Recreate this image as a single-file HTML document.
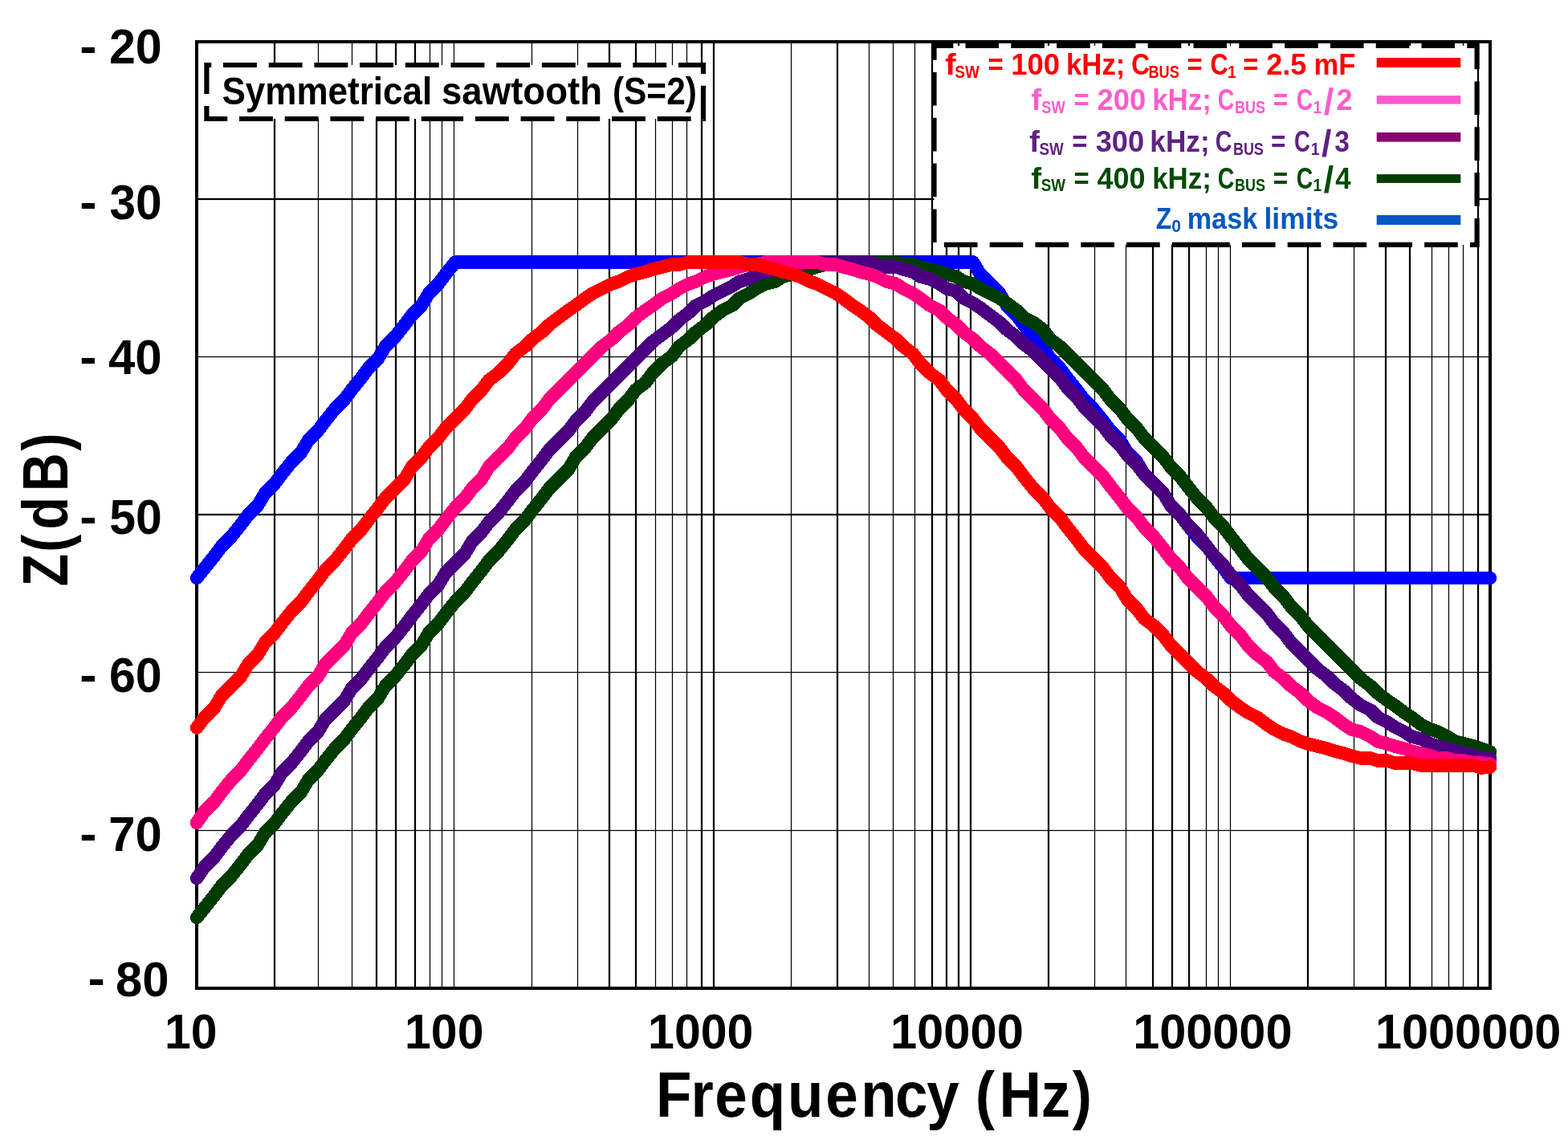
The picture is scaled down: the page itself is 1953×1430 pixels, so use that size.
<!DOCTYPE html>
<html lang="en"><head><meta charset="utf-8"><title>Z(dB) vs Frequency (Hz)</title>
<style>html,body{margin:0;padding:0;background:#fff;overflow:hidden}svg{display:block}text{font-family:"Liberation Sans",sans-serif;font-weight:bold}</style>
</head><body>
<svg width="1953" height="1430" viewBox="0 0 1953 1430" role="img" aria-label="Z(dB) versus Frequency (Hz), symmetrical sawtooth (S=2)">
<rect x="0" y="0" width="1953" height="1430" fill="#fff"/>
<g id="grid" fill="#000">
<rect x="340.88" y="52" width="2.24" height="1179"/>
<rect x="395.88" y="52" width="1.24" height="1179"/>
<rect x="437.88" y="52" width="1.24" height="1179"/>
<rect x="467.88" y="52" width="2.24" height="1179"/>
<rect x="491.88" y="52" width="2.24" height="1179"/>
<rect x="515.88" y="52" width="2.24" height="1179"/>
<rect x="534.88" y="52" width="1.24" height="1179"/>
<rect x="549.88" y="52" width="1.24" height="1179"/>
<rect x="564.88" y="52" width="1.24" height="1179"/>
<rect x="661.88" y="52" width="1.24" height="1179"/>
<rect x="718.88" y="52" width="1.24" height="1179"/>
<rect x="757.88" y="52" width="2.24" height="1179"/>
<rect x="790.88" y="52" width="2.24" height="1179"/>
<rect x="815.88" y="52" width="1.24" height="1179"/>
<rect x="836.88" y="52" width="1.24" height="1179"/>
<rect x="854.88" y="52" width="1.24" height="1179"/>
<rect x="872.88" y="52" width="2.24" height="1179"/>
<rect x="887.88" y="52" width="2.24" height="1179"/>
<rect x="984.88" y="52" width="1.24" height="1179"/>
<rect x="1041.88" y="52" width="2.24" height="1179"/>
<rect x="1081.88" y="52" width="1.24" height="1179"/>
<rect x="1111.88" y="52" width="1.24" height="1179"/>
<rect x="1138.88" y="52" width="1.24" height="1179"/>
<rect x="1159.88" y="52" width="2.24" height="1179"/>
<rect x="1177.88" y="52" width="2.24" height="1179"/>
<rect x="1192.88" y="52" width="2.24" height="1179"/>
<rect x="1207.88" y="52" width="2.24" height="1179"/>
<rect x="1304.88" y="52" width="2.24" height="1179"/>
<rect x="1362.88" y="52" width="1.24" height="1179"/>
<rect x="1401.88" y="52" width="1.24" height="1179"/>
<rect x="1434.88" y="52" width="2.24" height="1179"/>
<rect x="1458.88" y="52" width="2.24" height="1179"/>
<rect x="1479.88" y="52" width="2.24" height="1179"/>
<rect x="1501.88" y="52" width="1.24" height="1179"/>
<rect x="1516.88" y="52" width="1.24" height="1179"/>
<rect x="1531.88" y="52" width="1.24" height="1179"/>
<rect x="1627.88" y="52" width="2.24" height="1179"/>
<rect x="1685.88" y="52" width="1.24" height="1179"/>
<rect x="1724.88" y="52" width="2.24" height="1179"/>
<rect x="1754.88" y="52" width="2.24" height="1179"/>
<rect x="1782.88" y="52" width="1.24" height="1179"/>
<rect x="1803.88" y="52" width="1.24" height="1179"/>
<rect x="1821.88" y="52" width="1.24" height="1179"/>
<rect x="1839.88" y="52" width="2.24" height="1179"/>
<rect x="245" y="246.88" width="1611" height="2.24"/>
<rect x="245" y="443.88" width="1611" height="1.24"/>
<rect x="245" y="639.88" width="1611" height="2.24"/>
<rect x="245" y="836.88" width="1611" height="1.24"/>
<rect x="245" y="1033.88" width="1611" height="1.24"/>
</g>
<rect id="frame" x="245.0" y="52.0" width="1611.0" height="1179.0" fill="none" stroke="#000" stroke-width="4"/>
<g id="curves">
<polyline id="mask" points="245,720.1 255,707.5 267,692.5 276,680.5 288,668.5 300,653.5 309,641.5 321,629.5 330,614.5 342,602.5 351,590.5 363,575.5 375,563.5 384,548.5 396,536.5 405,524.5 417,509.5 429,497.5 438,485.5 450,470.5 459,458.5 471,446.5 480,431.5 492,419.5 504,404.5 513,392.5 525,380.5 534,365.5 546,353.5 555,341.5 567,326.5 1212,326.5 1221,341.5 1233,353.5 1245,365.5 1254,380.5 1266,392.5 1275,404.5 1287,419.5 1299,431.5 1308,446.5 1320,458.5 1329,470.5 1341,485.5 1350,497.5 1362,509.5 1374,524.5 1383,536.5 1395,548.5 1404,563.5 1416,575.5 1425,590.5 1437,602.5 1449,614.5 1458,629.5 1470,641.5 1479,653.5 1491,668.5 1503,680.5 1512,692.5 1524,707.5 1533,720.1 1856,720.1" fill="none" stroke="#0000ff" stroke-width="16.5" stroke-linecap="round" stroke-linejoin="round" shape-rendering="crispEdges"/>
<polyline id="c400" points="245,1143.1 255,1130.5 267,1115.5 276,1103.5 288,1091.5 300,1076.5 309,1064.5 321,1052.5 330,1037.5 342,1025.5 351,1013.5 363,998.5 375,986.5 384,971.5 396,959.5 405,947.5 417,932.5 429,920.5 438,908.5 450,893.5 459,881.5 471,869.5 480,854.5 492,842.5 504,827.5 513,815.5 525,803.5 534,788.5 546,776.5 555,764.5 567,749.5 579,737.5 588,725.5 600,710.5 609,698.5 621,686.5 633,671.5 642,659.5 654,647.5 663,635.5 675,620.5 684,608.5 696,596.5 708,584.5 717,569.5 729,557.5 738,545.5 750,533.5 762,521.5 771,509.5 783,497.5 792,485.5 804,476.5 813,464.5 825,452.5 837,443.5 846,431.5 858,422.5 867,413.5 879,404.5 888,395.5 900,386.5 912,380.5 921,371.5 933,365.5 942,359.5 954,353.5 966,350.5 975,344.5 987,341.5 996,338.5 1008,335.5 1017,332.5 1029,329.5 1041,329.5 1050,326.5 1062,326.5 1071,326.5 1083,326.5 1092,326.5 1104,326.5 1116,326.5 1125,329.5 1137,329.5 1146,332.5 1158,335.5 1170,338.5 1179,341.5 1191,344.5 1200,350.5 1212,353.5 1221,359.5 1233,365.5 1245,371.5 1254,377.5 1266,386.5 1275,395.5 1287,401.5 1299,410.5 1308,422.5 1320,431.5 1329,440.5 1341,452.5 1350,461.5 1362,473.5 1374,485.5 1383,497.5 1395,509.5 1404,521.5 1416,533.5 1425,545.5 1437,557.5 1449,569.5 1458,581.5 1470,593.5 1479,605.5 1491,620.5 1503,632.5 1512,644.5 1524,656.5 1533,668.5 1545,683.5 1554,695.5 1566,707.5 1578,719.5 1587,731.5 1599,743.5 1608,755.5 1620,767.5 1629,779.5 1641,791.5 1653,803.5 1662,812.5 1674,824.5 1683,833.5 1695,845.5 1707,854.5 1716,863.5 1728,872.5 1737,878.5 1749,887.5 1758,893.5 1770,902.5 1782,908.5 1791,911.5 1803,917.5 1812,923.5 1824,926.5 1836,929.5 1845,932.5 1856,936.6" fill="none" stroke="#003c00" stroke-width="16.5" stroke-linecap="round" stroke-linejoin="round" shape-rendering="crispEdges"/>
<polyline id="c300" points="245,1094 255,1079.5 267,1067.5 276,1055.5 288,1040.5 300,1028.5 309,1016.5 321,1001.5 330,989.5 342,977.5 351,962.5 363,950.5 375,935.5 384,923.5 396,911.5 405,896.5 417,884.5 429,872.5 438,857.5 450,845.5 459,833.5 471,818.5 480,806.5 492,794.5 504,779.5 513,767.5 525,752.5 534,740.5 546,728.5 555,713.5 567,701.5 579,689.5 588,674.5 600,662.5 609,650.5 621,638.5 633,623.5 642,611.5 654,599.5 663,587.5 675,572.5 684,560.5 696,548.5 708,536.5 717,524.5 729,512.5 738,500.5 750,488.5 762,476.5 771,467.5 783,455.5 792,446.5 804,434.5 813,425.5 825,416.5 837,407.5 846,398.5 858,389.5 867,380.5 879,374.5 888,368.5 900,362.5 912,356.5 921,350.5 933,347.5 942,341.5 954,338.5 966,335.5 975,332.5 987,329.5 996,329.5 1008,326.5 1017,326.5 1029,326.5 1041,326.5 1050,326.5 1062,326.5 1071,326.5 1083,326.5 1092,329.5 1104,332.5 1116,332.5 1125,335.5 1137,338.5 1146,344.5 1158,347.5 1170,353.5 1179,359.5 1191,362.5 1200,371.5 1212,377.5 1221,383.5 1233,392.5 1245,401.5 1254,410.5 1266,419.5 1275,428.5 1287,437.5 1299,449.5 1308,458.5 1320,470.5 1329,482.5 1341,494.5 1350,506.5 1362,518.5 1374,530.5 1383,542.5 1395,554.5 1404,566.5 1416,578.5 1425,590.5 1437,602.5 1449,614.5 1458,629.5 1470,641.5 1479,653.5 1491,665.5 1503,680.5 1512,692.5 1524,704.5 1533,716.5 1545,728.5 1554,740.5 1566,752.5 1578,764.5 1587,776.5 1599,788.5 1608,800.5 1620,812.5 1629,821.5 1641,833.5 1653,842.5 1662,851.5 1674,860.5 1683,869.5 1695,878.5 1707,884.5 1716,893.5 1728,899.5 1737,905.5 1749,911.5 1758,917.5 1770,920.5 1782,926.5 1791,929.5 1803,932.5 1812,935.5 1824,938.5 1836,941.5 1845,944.5 1856,944.8" fill="none" stroke="#4b0082" stroke-width="16.5" stroke-linecap="round" stroke-linejoin="round" shape-rendering="crispEdges"/>
<polyline id="c200" points="245,1024.8 255,1010.5 267,998.5 276,986.5 288,971.5 300,959.5 309,947.5 321,932.5 330,920.5 342,905.5 351,893.5 363,881.5 375,866.5 384,854.5 396,842.5 405,827.5 417,815.5 429,803.5 438,788.5 450,776.5 459,764.5 471,749.5 480,737.5 492,725.5 504,710.5 513,698.5 525,686.5 534,671.5 546,659.5 555,647.5 567,632.5 579,620.5 588,608.5 600,596.5 609,581.5 621,569.5 633,557.5 642,545.5 654,533.5 663,521.5 675,509.5 684,497.5 696,485.5 708,473.5 717,464.5 729,452.5 738,443.5 750,431.5 762,422.5 771,413.5 783,404.5 792,395.5 804,386.5 813,380.5 825,371.5 837,365.5 846,359.5 858,353.5 867,350.5 879,344.5 888,341.5 900,338.5 912,335.5 921,332.5 933,329.5 942,329.5 954,326.5 966,326.5 975,326.5 987,326.5 996,326.5 1008,326.5 1017,326.5 1029,329.5 1041,329.5 1050,332.5 1062,335.5 1071,338.5 1083,341.5 1092,344.5 1104,350.5 1116,353.5 1125,359.5 1137,365.5 1146,371.5 1158,380.5 1170,386.5 1179,395.5 1191,404.5 1200,413.5 1212,422.5 1221,431.5 1233,440.5 1245,452.5 1254,461.5 1266,473.5 1275,485.5 1287,497.5 1299,509.5 1308,521.5 1320,533.5 1329,545.5 1341,557.5 1350,569.5 1362,581.5 1374,593.5 1383,605.5 1395,620.5 1404,632.5 1416,644.5 1425,656.5 1437,668.5 1449,683.5 1458,695.5 1470,707.5 1479,719.5 1491,731.5 1503,743.5 1512,755.5 1524,767.5 1533,779.5 1545,791.5 1554,803.5 1566,815.5 1578,824.5 1587,836.5 1599,845.5 1608,854.5 1620,863.5 1629,872.5 1641,881.5 1653,887.5 1662,893.5 1674,902.5 1683,908.5 1695,911.5 1707,917.5 1716,923.5 1728,926.5 1737,929.5 1749,932.5 1758,935.5 1770,938.5 1782,941.5 1791,944.5 1803,944.5 1812,947.5 1824,947.5 1836,950.5 1845,950.5 1856,951.3" fill="none" stroke="#ff007f" stroke-width="16.5" stroke-linecap="round" stroke-linejoin="round" shape-rendering="crispEdges"/>
<polyline id="c100" points="245,906.6 255,893.5 267,881.5 276,866.5 288,854.5 300,842.5 309,827.5 321,815.5 330,800.5 342,788.5 351,776.5 363,761.5 375,749.5 384,737.5 396,722.5 405,710.5 417,698.5 429,683.5 438,671.5 450,659.5 459,647.5 471,632.5 480,620.5 492,608.5 504,596.5 513,581.5 525,569.5 534,557.5 546,545.5 555,533.5 567,521.5 579,509.5 588,497.5 600,485.5 609,473.5 621,464.5 633,452.5 642,440.5 654,431.5 663,422.5 675,413.5 684,404.5 696,395.5 708,386.5 717,380.5 729,371.5 738,365.5 750,359.5 762,353.5 771,350.5 783,344.5 792,341.5 804,338.5 813,335.5 825,332.5 837,329.5 846,329.5 858,326.5 867,326.5 879,326.5 888,326.5 900,326.5 912,326.5 921,326.5 933,329.5 942,329.5 954,332.5 966,335.5 975,338.5 987,341.5 996,344.5 1008,350.5 1017,353.5 1029,359.5 1041,365.5 1050,371.5 1062,380.5 1071,386.5 1083,395.5 1092,404.5 1104,413.5 1116,422.5 1125,431.5 1137,440.5 1146,452.5 1158,464.5 1170,473.5 1179,485.5 1191,497.5 1200,509.5 1212,521.5 1221,533.5 1233,545.5 1245,557.5 1254,569.5 1266,581.5 1275,593.5 1287,608.5 1299,620.5 1308,632.5 1320,644.5 1329,656.5 1341,671.5 1350,683.5 1362,695.5 1374,707.5 1383,719.5 1395,731.5 1404,746.5 1416,758.5 1425,770.5 1437,779.5 1449,791.5 1458,803.5 1470,815.5 1479,824.5 1491,836.5 1503,845.5 1512,854.5 1524,863.5 1533,872.5 1545,881.5 1554,887.5 1566,893.5 1578,902.5 1587,908.5 1599,914.5 1608,917.5 1620,923.5 1629,926.5 1641,929.5 1653,932.5 1662,935.5 1674,938.5 1683,941.5 1695,944.5 1707,944.5 1716,947.5 1728,947.5 1737,950.5 1749,950.5 1758,950.5 1770,953.5 1782,953.5 1791,953.5 1803,953.5 1812,953.5 1824,953.5 1836,953.5 1845,956.5 1856,955.4" fill="none" stroke="#ff0000" stroke-width="16.5" stroke-linecap="round" stroke-linejoin="round" shape-rendering="crispEdges"/>
</g>
<text id="y20" fill="#000"><tspan x="99.24" y="77.56" font-size="58.30" textLength="21.29" lengthAdjust="spacingAndGlyphs">-</tspan> <tspan x="135.93" y="79.30" font-size="60.40" textLength="65.77" lengthAdjust="spacingAndGlyphs">20</tspan></text>
<text id="y30" fill="#000"><tspan x="99.24" y="271.66" font-size="58.30" textLength="21.29" lengthAdjust="spacingAndGlyphs">-</tspan> <tspan x="136.54" y="273.40" font-size="60.40" textLength="65.14" lengthAdjust="spacingAndGlyphs">30</tspan></text>
<text id="y40" fill="#000"><tspan x="99.24" y="464.66" font-size="58.30" textLength="21.29" lengthAdjust="spacingAndGlyphs">-</tspan> <tspan x="135.00" y="466.40" font-size="60.40" textLength="66.74" lengthAdjust="spacingAndGlyphs">40</tspan></text>
<text id="y50" fill="#000"><tspan x="99.24" y="663.56" font-size="58.30" textLength="21.29" lengthAdjust="spacingAndGlyphs">-</tspan> <tspan x="136.23" y="665.30" font-size="60.40" textLength="65.46" lengthAdjust="spacingAndGlyphs">50</tspan></text>
<text id="y60" fill="#000"><tspan x="99.24" y="860.56" font-size="58.30" textLength="21.29" lengthAdjust="spacingAndGlyphs">-</tspan> <tspan x="135.93" y="862.30" font-size="60.40" textLength="65.77" lengthAdjust="spacingAndGlyphs">60</tspan></text>
<text id="y70" fill="#000"><tspan x="99.24" y="1058.56" font-size="58.30" textLength="21.29" lengthAdjust="spacingAndGlyphs">-</tspan> <tspan x="135.31" y="1060.30" font-size="60.40" textLength="66.42" lengthAdjust="spacingAndGlyphs">70</tspan></text>
<text id="y80" fill="#000"><tspan x="109.44" y="1239.46" font-size="58.30" textLength="21.29" lengthAdjust="spacingAndGlyphs">-</tspan> <tspan x="144.11" y="1241.20" font-size="60.40" textLength="66.53" lengthAdjust="spacingAndGlyphs">80</tspan></text>
<text id="x10" fill="#000"><tspan x="205.07" y="1306.20" font-size="60.40" textLength="65.52" lengthAdjust="spacingAndGlyphs">10</tspan></text>
<text id="x100" fill="#000"><tspan x="504.07" y="1306.20" font-size="60.40" textLength="98.41" lengthAdjust="spacingAndGlyphs">100</tspan></text>
<text id="x1000" fill="#000"><tspan x="807.06" y="1306.20" font-size="60.40" textLength="131.38" lengthAdjust="spacingAndGlyphs">1000</tspan></text>
<text id="x10000" fill="#000"><tspan x="1108.92" y="1306.20" font-size="60.40" textLength="165.91" lengthAdjust="spacingAndGlyphs">10000</tspan></text>
<text id="x100000" fill="#000"><tspan x="1411.14" y="1306.20" font-size="60.40" textLength="198.36" lengthAdjust="spacingAndGlyphs">100000</tspan></text>
<text id="x1000000" fill="#000"><tspan x="1712.94" y="1306.20" font-size="60.40" textLength="231.43" lengthAdjust="spacingAndGlyphs">1000000</tspan></text>
<text id="xtitle" fill="#000" font-size="79.60" transform="translate(0,1391) scale(0.9144,1)"><tspan x="893.6 941.0 973.5 1021.2 1072.7 1124.6 1172.6 1219.4 1262.3 1330.5 1328.6 1361.0 1418.2 1460.8" y="0">Frequency (Hz)</tspan></text>
<text id="ytitle" fill="#000" font-size="79.90" transform="translate(84.2,729) rotate(-90) scale(0.8314,1)"><tspan x="-1.8 49.5 83.7 140.4 201.5" y="0">Z(dB)</tspan></text>
<rect x="257.4" y="81.0" width="618.6" height="67.0" fill="#fff"/>
<path id="notebox" d="M566.7,148.0 H257.4 V81.0 H876.0 V148.0 Z" fill="none" stroke="#000" stroke-width="6.2" stroke-dasharray="41.9 14.8"/>
<text id="note" fill="#000"><tspan x="276.48" y="130.30" font-size="47.60" textLength="261.83" lengthAdjust="spacingAndGlyphs">Symmetrical</tspan> <tspan x="550.01" y="130.30" font-size="47.60" textLength="200.00" lengthAdjust="spacingAndGlyphs">sawtooth</tspan> <tspan x="762.88" y="130.30" font-size="47.60" textLength="105.07" lengthAdjust="spacingAndGlyphs">(S=2)</tspan></text>
<rect x="1163.5" y="57.0" width="676.1" height="247.8" fill="#fff"/>
<path id="legendbox" d="M1501.5,304.8 H1163.5 V57.0 H1839.6 V304.8 Z" fill="none" stroke="#000" stroke-width="6.2" stroke-dasharray="41.6 15.2"/>
<text id="leg1" fill="#ff0000"><tspan x="1176.99" y="92.90" font-size="36.80" textLength="13.63" lengthAdjust="spacingAndGlyphs">f</tspan><tspan x="1189.23" y="96.70" font-size="21.20" textLength="30.59" lengthAdjust="spacingAndGlyphs">SW</tspan> <tspan x="1230.49" y="92.90" font-size="36.80" textLength="19.20" lengthAdjust="spacingAndGlyphs">=</tspan> <tspan x="1259.13" y="92.90" font-size="36.80" textLength="60.88" lengthAdjust="spacingAndGlyphs">100</tspan> <tspan x="1327.96" y="92.90" font-size="36.80" textLength="73.49" lengthAdjust="spacingAndGlyphs">kHz;</tspan> <tspan x="1409.34" y="92.90" font-size="36.80" textLength="22.82" lengthAdjust="spacingAndGlyphs">C</tspan><tspan x="1430.52" y="96.70" font-size="21.20" textLength="38.23" lengthAdjust="spacingAndGlyphs">BUS</tspan> <tspan x="1478.49" y="92.90" font-size="36.80" textLength="19.20" lengthAdjust="spacingAndGlyphs">=</tspan> <tspan x="1507.57" y="92.90" font-size="36.80" textLength="22.16" lengthAdjust="spacingAndGlyphs">C</tspan><tspan x="1528.94" y="96.70" font-size="21.20" textLength="10.76" lengthAdjust="spacingAndGlyphs">1</tspan> <tspan x="1548.29" y="92.90" font-size="36.80" textLength="19.20" lengthAdjust="spacingAndGlyphs">=</tspan> <tspan x="1577.34" y="92.90" font-size="36.80" textLength="50.05" lengthAdjust="spacingAndGlyphs">2.5</tspan> <tspan x="1636.55" y="92.90" font-size="36.80" textLength="51.86" lengthAdjust="spacingAndGlyphs">mF</tspan></text>
<text id="leg2" fill="#ff5bcd"><tspan x="1284.22" y="136.70" font-size="36.80" textLength="12.91" lengthAdjust="spacingAndGlyphs">f</tspan><tspan x="1297.35" y="140.50" font-size="21.20" textLength="29.57" lengthAdjust="spacingAndGlyphs">SW</tspan> <tspan x="1337.39" y="136.70" font-size="36.80" textLength="19.20" lengthAdjust="spacingAndGlyphs">=</tspan> <tspan x="1366.43" y="136.70" font-size="36.80" textLength="60.78" lengthAdjust="spacingAndGlyphs">200</tspan> <tspan x="1435.16" y="136.70" font-size="36.80" textLength="73.60" lengthAdjust="spacingAndGlyphs">kHz;</tspan> <tspan x="1516.66" y="136.70" font-size="36.80" textLength="20.62" lengthAdjust="spacingAndGlyphs">C</tspan><tspan x="1538.03" y="140.50" font-size="21.20" textLength="37.91" lengthAdjust="spacingAndGlyphs">BUS</tspan> <tspan x="1585.64" y="136.70" font-size="36.80" textLength="18.39" lengthAdjust="spacingAndGlyphs">=</tspan> <tspan x="1614.86" y="136.70" font-size="36.80" textLength="20.51" lengthAdjust="spacingAndGlyphs">C</tspan><tspan x="1635.44" y="140.50" font-size="21.20" textLength="10.76" lengthAdjust="spacingAndGlyphs">1</tspan><tspan x="1648.80" y="142.60" font-size="47.00" textLength="12.41" lengthAdjust="spacingAndGlyphs">/</tspan><tspan x="1664.44" y="136.70" font-size="36.80" textLength="20.05" lengthAdjust="spacingAndGlyphs">2</tspan></text>
<text id="leg3" fill="#5f2282"><tspan x="1282.12" y="188.90" font-size="36.80" textLength="12.91" lengthAdjust="spacingAndGlyphs">f</tspan><tspan x="1294.54" y="192.70" font-size="21.20" textLength="30.28" lengthAdjust="spacingAndGlyphs">SW</tspan> <tspan x="1335.29" y="188.90" font-size="36.80" textLength="19.20" lengthAdjust="spacingAndGlyphs">=</tspan> <tspan x="1364.70" y="188.90" font-size="36.80" textLength="60.40" lengthAdjust="spacingAndGlyphs">300</tspan> <tspan x="1432.33" y="188.90" font-size="36.80" textLength="74.36" lengthAdjust="spacingAndGlyphs">kHz;</tspan> <tspan x="1513.86" y="188.90" font-size="36.80" textLength="20.62" lengthAdjust="spacingAndGlyphs">C</tspan><tspan x="1535.93" y="192.70" font-size="21.20" textLength="37.91" lengthAdjust="spacingAndGlyphs">BUS</tspan> <tspan x="1582.94" y="188.90" font-size="36.80" textLength="18.39" lengthAdjust="spacingAndGlyphs">=</tspan> <tspan x="1612.10" y="188.90" font-size="36.80" textLength="19.85" lengthAdjust="spacingAndGlyphs">C</tspan><tspan x="1632.64" y="192.70" font-size="21.20" textLength="10.76" lengthAdjust="spacingAndGlyphs">1</tspan><tspan x="1646.00" y="194.80" font-size="47.00" textLength="12.41" lengthAdjust="spacingAndGlyphs">/</tspan><tspan x="1662.16" y="188.90" font-size="36.80" textLength="18.65" lengthAdjust="spacingAndGlyphs">3</tspan></text>
<text id="leg4" fill="#004b00"><tspan x="1284.22" y="234.50" font-size="36.80" textLength="12.91" lengthAdjust="spacingAndGlyphs">f</tspan><tspan x="1296.64" y="238.30" font-size="21.20" textLength="30.28" lengthAdjust="spacingAndGlyphs">SW</tspan> <tspan x="1337.39" y="234.50" font-size="36.80" textLength="19.20" lengthAdjust="spacingAndGlyphs">=</tspan> <tspan x="1366.46" y="234.50" font-size="36.80" textLength="60.03" lengthAdjust="spacingAndGlyphs">400</tspan> <tspan x="1435.16" y="234.50" font-size="36.80" textLength="73.60" lengthAdjust="spacingAndGlyphs">kHz;</tspan> <tspan x="1516.66" y="234.50" font-size="36.80" textLength="20.62" lengthAdjust="spacingAndGlyphs">C</tspan><tspan x="1538.03" y="238.30" font-size="21.20" textLength="37.91" lengthAdjust="spacingAndGlyphs">BUS</tspan> <tspan x="1585.64" y="234.50" font-size="36.80" textLength="18.39" lengthAdjust="spacingAndGlyphs">=</tspan> <tspan x="1614.86" y="234.50" font-size="36.80" textLength="20.51" lengthAdjust="spacingAndGlyphs">C</tspan><tspan x="1635.44" y="238.30" font-size="21.20" textLength="10.76" lengthAdjust="spacingAndGlyphs">1</tspan><tspan x="1648.80" y="240.40" font-size="47.00" textLength="12.41" lengthAdjust="spacingAndGlyphs">/</tspan><tspan x="1663.18" y="234.50" font-size="36.80" textLength="19.34" lengthAdjust="spacingAndGlyphs">4</tspan></text>
<text id="leg5" fill="#0558c0"><tspan x="1439.85" y="285.20" font-size="36.50" textLength="19.44" lengthAdjust="spacingAndGlyphs">Z</tspan><tspan x="1459.26" y="288.90" font-size="22.40" textLength="11.71" lengthAdjust="spacingAndGlyphs">0</tspan> <tspan x="1478.67" y="285.20" font-size="36.50" textLength="87.62" lengthAdjust="spacingAndGlyphs">mask</tspan> <tspan x="1574.52" y="285.20" font-size="36.50" textLength="92.67" lengthAdjust="spacingAndGlyphs">limits</tspan></text>
<g id="legend-samples">
<rect x="1714.7" y="72.0" width="104.6" height="12.0" fill="#ff0000"/>
<rect x="1714.7" y="119.0" width="104.6" height="10.6" fill="#ff5bcd"/>
<rect x="1714.7" y="165.0" width="104.6" height="11.6" fill="#890070"/>
<rect x="1714.7" y="217.1" width="104.6" height="10.8" fill="#003c00"/>
<rect x="1714.7" y="268.0" width="104.6" height="12.0" fill="#0558c0"/>
</g>
</svg>
</body></html>
